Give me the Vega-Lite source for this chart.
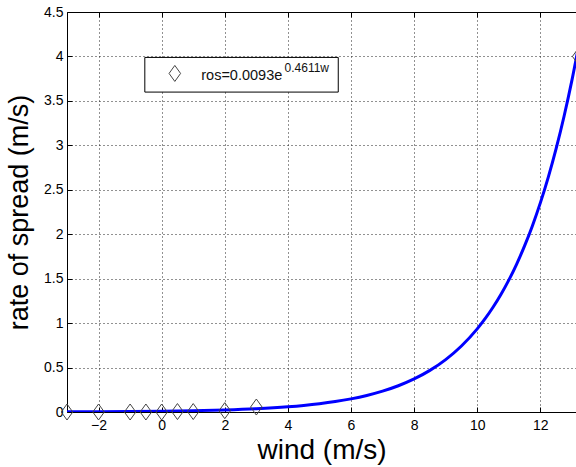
{
  "$schema": "https://vega.github.io/schema/vega-lite/v6.json",
  "autosize": {"type": "none"},
  "padding": {"left": 67, "top": 12, "right": 0, "bottom": 55},
  "width": 509,
  "height": 400,
  "background": "white",
  "config": {
    "view": {"stroke": null},
    "font": "Liberation Sans",
    "axis": {
      "labelFont": "Liberation Sans",
      "labelFontSize": 14,
      "labelColor": "#000",
      "domainColor": "#000",
      "tickColor": "#000",
      "titleFont": "Liberation Sans",
      "titleFontWeight": "normal",
      "titleColor": "#000"
    }
  },
  "datasets": {
    "curve": [
      {"wind": -3, "ros": 0.00233},
      {"wind": -2, "ros": 0.0037},
      {"wind": -1, "ros": 0.00586},
      {"wind": 0, "ros": 0.0093},
      {"wind": 1, "ros": 0.01475},
      {"wind": 2, "ros": 0.02339},
      {"wind": 3, "ros": 0.03709},
      {"wind": 4, "ros": 0.05881},
      {"wind": 4.5, "ros": 0.07406},
      {"wind": 5, "ros": 0.09327},
      {"wind": 5.5, "ros": 0.11746},
      {"wind": 6, "ros": 0.1479},
      {"wind": 6.5, "ros": 0.1862},
      {"wind": 7, "ros": 0.2346},
      {"wind": 7.5, "ros": 0.2954},
      {"wind": 8, "ros": 0.372},
      {"wind": 8.5, "ros": 0.4685},
      {"wind": 9, "ros": 0.5899},
      {"wind": 9.5, "ros": 0.7429},
      {"wind": 10, "ros": 0.9355},
      {"wind": 10.25, "ros": 1.0498},
      {"wind": 10.5, "ros": 1.1781},
      {"wind": 10.75, "ros": 1.3221},
      {"wind": 11, "ros": 1.4835},
      {"wind": 11.25, "ros": 1.6648},
      {"wind": 11.5, "ros": 1.8682},
      {"wind": 11.75, "ros": 2.0965},
      {"wind": 12, "ros": 2.3526},
      {"wind": 12.25, "ros": 2.64},
      {"wind": 12.5, "ros": 2.9626},
      {"wind": 12.75, "ros": 3.3246},
      {"wind": 13, "ros": 3.731},
      {"wind": 13.25, "ros": 4.187}
    ],
    "obs": [
      {"wind": -3, "ros": 0},
      {"wind": -2, "ros": 0},
      {"wind": -1, "ros": 0},
      {"wind": -0.5, "ros": 0},
      {"wind": 0, "ros": 0},
      {"wind": 0.5, "ros": 0.005},
      {"wind": 1, "ros": 0.005},
      {"wind": 2, "ros": 0.015},
      {"wind": 3, "ros": 0.056},
      {"wind": 13.2, "ros": 4.0}
    ],
    "one": [{}]
  },
  "resolve": {"axis": {"x": "independent"}},
  "layer": [
    {
      "data": {"name": "curve"},
      "mark": {"type": "line", "color": "#0000ff", "strokeWidth": 3, "interpolate": "monotone", "clip": true},
      "encoding": {
        "x": {
          "field": "wind", "type": "quantitative",
          "scale": {"domain": [-3, 13.13], "nice": false, "zero": false},
          "axis": {
            "orient": "bottom",
            "title": "wind (m/s)",
            "titleFontSize": 28,
            "titlePadding": 4,
            "values": [-2, 0, 2, 4, 6, 8, 10, 12],
            "format": "~g",
            "grid": true,
            "gridDash": [1, 3],
            "gridColor": "#222",
            "gridOpacity": 1,
            "tickSize": -5,
            "labelPadding": 11
          }
        },
        "y": {
          "field": "ros", "type": "quantitative",
          "scale": {"domain": [0, 4.5], "nice": false, "zero": false},
          "axis": {
            "title": "rate of spread (m/s)",
            "titleFontSize": 27,
            "titlePadding": 10,
            "values": [0, 0.5, 1, 1.5, 2, 2.5, 3, 3.5, 4, 4.5],
            "format": "~g",
            "grid": true,
            "gridDash": [1, 3],
            "gridColor": "#222",
            "gridOpacity": 1,
            "tickSize": -5,
            "labelPadding": 9
          }
        }
      }
    },
    {
      "data": {"name": "obs"},
      "mark": {"type": "point", "shape": "M0,-1L0.72,0L0,1L-0.72,0Z", "size": 256, "filled": false, "stroke": "#444", "strokeWidth": 1, "opacity": 1},
      "encoding": {
        "x": {
          "field": "wind", "type": "quantitative",
          "axis": {"orient": "top", "title": null, "labels": false, "grid": false, "values": [-2, 0, 2, 4, 6, 8, 10, 12], "tickSize": -5}
        },
        "y": {"field": "ros", "type": "quantitative"}
      }
    },
    {
      "data": {"name": "one"},
      "mark": {"type": "rect", "fill": "white", "stroke": "#000", "strokeWidth": 1},
      "encoding": {
        "x": {"datum": -0.534, "type": "quantitative", "axis": null},
        "x2": {"datum": 5.596},
        "y": {"datum": 3.989, "type": "quantitative"},
        "y2": {"datum": 3.599}
      }
    },
    {
      "data": {"name": "one"},
      "mark": {"type": "point", "shape": "M0,-1L0.72,0L0,1L-0.72,0Z", "size": 256, "filled": false, "stroke": "#444", "strokeWidth": 1, "opacity": 1},
      "encoding": {
        "x": {"datum": 0.417, "type": "quantitative", "axis": null},
        "y": {"datum": 3.809, "type": "quantitative"}
      }
    },
    {
      "data": {"name": "one"},
      "mark": {"type": "text", "text": "ros=0.0093e", "fontSize": 14.5, "align": "left", "baseline": "alphabetic", "color": "#111", "font": "Liberation Sans"},
      "encoding": {
        "x": {"datum": 1.254, "type": "quantitative", "axis": null},
        "y": {"datum": 3.734, "type": "quantitative"}
      }
    },
    {
      "data": {"name": "one"},
      "mark": {"type": "text", "text": "0.4611w", "fontSize": 12, "align": "left", "baseline": "alphabetic", "color": "#111", "font": "Liberation Sans"},
      "encoding": {
        "x": {"datum": 3.894, "type": "quantitative", "axis": null},
        "y": {"datum": 3.82, "type": "quantitative"}
      }
    }
  ]
}
